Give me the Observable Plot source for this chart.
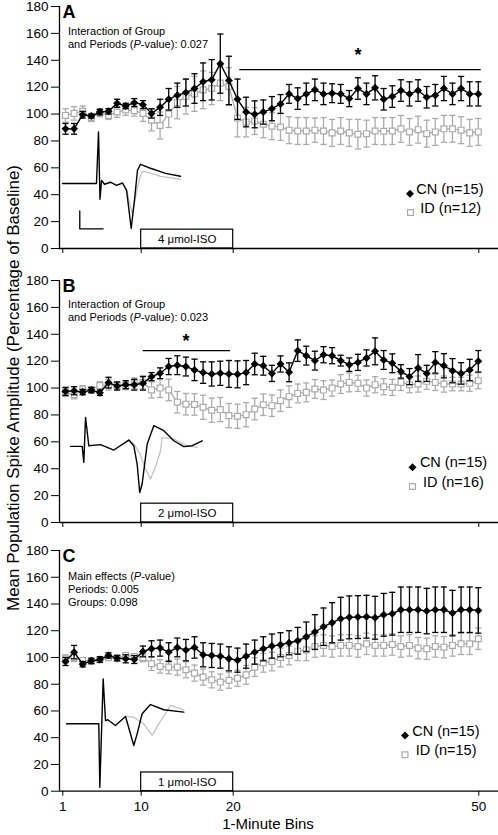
<!DOCTYPE html>
<html><head><meta charset="utf-8">
<script src="https://cdn.jsdelivr.net/npm/d3@7"></script>
<script src="https://cdn.jsdelivr.net/npm/@observablehq/plot@0.6"></script>
<style>
body{margin:0;background:#fff;font-family:"Liberation Sans",Arial,sans-serif;}
#chart{position:relative;width:498px;height:835px;overflow:hidden;background:#fff;}
.panel{position:absolute;left:0;}
.note{position:absolute;left:68px;font-size:11px;line-height:13px;color:#000;white-space:nowrap;}
#ytitle{position:absolute;left:-226px;top:378px;width:480px;height:20px;line-height:20px;text-align:center;font-size:17px;transform:rotate(-90deg);transform-origin:50% 50%;white-space:nowrap;}
#xtitle{position:absolute;left:168px;width:200px;top:815px;height:17px;line-height:17px;text-align:center;font-size:15px;white-space:nowrap;}
</style></head>
<body><div id="chart"></div>
<script>
// ---- shared axes ----
const bins = d3.range(1, 50);               // 49 one-minute bins
const yTicks = d3.range(0, 181, 20);
const xTickAt = [0.686, 9.80, 20.50, 49.06];  // where the printed ticks sit relative to the bins
const xTickLabels = ["1", "10", "20", "50"];
const xDomain = [0.302, 51.35];

// ---- panel A ----
const cnA = [89,89,99.5,98.5,101.5,102,108,106,108.5,107, 100.5,105,111,114,116,119,124,125.5,137.5,125, 111,101.5,99.8,101.5,104,107.5,115,111.5,115,118, 115,115.5,115,111.5,119,115,119.5,111,113,117.5, 115,117.5,112.5,114,119,115,119,115,115];
const cnAErr = [4,4,2.5,1.5,2,2,3,2,3,3, 3.5,6,8,9,10,11,14,15,22,18, 15,11,10,9,9,7,7,8,8,8, 8,7,7,6,8,8,9,8,8,8, 9,8,8,8,9,8,9,9,9];
const idA = [99,100.5,102,97.5,101,99,101.5,103,102.5,100.5, 95.5,91.5,100,108.5,113,115,118,119,123,120.5, 97,94,94.8,92.4,91,90.4,88,87.4,87.4,88, 87.4,86,87.4,86,85,85.4,87.4,87.2,87.4,89, 86.7,88.4,85.4,86.7,89,89,88,86,86.7];
const idAErr = [5,5,4,3,3,3,4,4,4,6, 8,10,10,12,13,13,14,12,13,14, 14,11,10,10,10,10,10,10,10,9, 10,10,10,10,11,10,10,10,10,10, 10,10,10,10,10,10,10,10,10];
const legendA = ["CN (n=15)", "ID (n=12)"];
const boxA = "4 μmol-ISO";
const sigA = {x1: 21.27, x2: 49.34, y: 133, sx: 35, sy: 144};
const traceCNA = [[0.65,48.3],[4.6,48.3],[4.84,86.6],[5.01,36.6],[5.19,50.7],[5.53,47.8],[6.23,49.3],[6.93,47],[7.63,48.7],[8.1,43.3],[8.64,14.9],[9.02,35.9],[9.37,58.2],[9.72,62.6],[10.88,59.7],[12.63,55.9],[14.37,53.7]];
const traceIDA = [[7.63,48.7],[8.1,44],[8.76,26],[9.2,40],[9.6,52],[9.95,57.4],[10.9,56],[12.05,53.7],[14.37,51.5]];
const scaleBarA = [[2.66,27.9],[2.66,14.6],[5.38,14.6]];

// ---- panel B ----
const cnB = [97.5,98,97,98.5,96.5,104,101.5,102.5,102.5,103.5, 108.5,111,116,117,116,113.5,111.5,110.5,111,110.5, 110.2,111.5,117.9,116.6,110.9,117.9,111.7,127.8,124.1,120.4, 124.8,124.1,120.4,117.4,119.1,122.4,127.3,120.9,118.4,112.4, 108.5,114.9,110.9,119.1,116.6,112.9,110.9,113.4,119.9];
const cnBErr = [3,3,2,2,2,4,3,3,4,5, 3,4,6,7,7,8,8,9,9,10, 10,9,8,7,6,6,7,8,7,7, 6,6,4,5,6,6,10,7,7,5, 6,10,6,8,9,9,8,8,8];
const idB = [96.8,95,98.8,98.6,101.8,102.5,101.8,101.8,103.5,104.3, 98.6,100,98.6,89.5,88,87.8,85.7,83.5,84,79.5, 79,80.2,84.4,87.6,86.9,90.6,93.6,96,96.8,99.3, 98.5,100,103,104.2,103.5,100,102.5,101,100.5,104.2, 102.5,103,105,104.2,103,103,103,103.5,105.5];
const idBErr = [3,3,3,2,3,4,3,3,4,5, 6,7,8,8,8,8,9,9,9,9, 9,9,8,8,8,8,8,7,7,7, 7,6,7,7,6,6,6,6,6,6, 6,6,6,6,6,5,5,6,6];
const legendB = ["CN (n=15)", "ID (n=16)"];
const boxB = "2 μmol-ISO";
const sigB = {x1: 10.03, x2: 20.2, y: 127.8, sx: 15, sy: 134.5};
const traceCNB = [[1.58,56.6],[2.94,56.6],[3.13,44.7],[3.33,78.2],[3.71,57.1],[5.07,57.9],[6.62,53.9],[8.36,61.3],[8.94,57.1],[9.33,43.5],[9.63,22.3],[9.91,28.6],[10.5,58.4],[11.27,72],[12.43,68.3],[13.59,60.8],[14.76,56.4],[15.73,57.1],[16.9,60.8]];
const traceIDB = [[8.36,61.3],[8.94,58.5],[9.6,52],[10.3,40],[10.88,32.3],[11.5,42],[12.05,53.4],[12.24,63.3],[13.59,62],[15.15,57.1],[16.31,55.8]];

// ---- panel C ----
const cnC = [97,104,95,97.5,98.5,101.5,99.5,99,98.5,104.5, 106.5,107,104,107.5,105.5,107.5,102,101.5,101,99, 98,101,104,106.5,108.5,109.5,111,112.5,115.5,119, 123,126,129,130,130.2,130.5,129.7,131.9,132.7,135.7, 135.7,135.7,134.7,135.7,135.7,133.2,135.7,135.7,135.2];
const cnCErr = [3,5,2,2,2,2,2,3,3,4, 6,6,7,7,8,8,9,9,9,9, 9,9,9,9,9,9,9,10,11,13, 14,15,16,16,16,16,16,16,16,17, 17,17,17,17,17,17,17,17,17];
const idC = [99,100,97.8,97,98.3,99.8,99.5,101.5,100.8,99.8, 95.3,93.3,92.8,92.8,90.8,88.3,85.3,83.3,81.6,83, 84.5,87,92.8,96,97,100,101.5,104.7,105.7,108.2, 109,108.2,109,109,108.2,110.2,109,109,109.7,108.2, 109,107,106.5,108.2,107.7,109,110.2,110.2,114];
const idCErr = [3,3,2,2,2,2,2,2,2,3, 5,5,5,6,6,6,6,6,6,6, 6,7,7,7,7,7,7,7,8,8, 8,8,8,8,8,8,8,8,8,8, 8,8,8,8,8,8,8,8,8];
const legendC = ["CN (n=15)", "ID (n=15)"];
const boxC = "1 μmol-ISO";
const traceCNC = [[1.12,50.4],[4.87,50.4],[4.99,3],[5.38,84],[5.65,52.9],[5.92,53.4],[6.81,49.1],[7.98,55.9],[8.94,34.2],[9.33,42.9],[9.91,57.9],[10.88,64.8],[12.43,60.9],[14.76,59.1]];
const traceIDC = [[7.98,55.9],[8.94,55.3],[10.1,50.4],[11.08,41.7],[11.85,50.4],[13.21,64.1],[14.76,60.9]];

const GREY = "#ababab";
const FONT = "'Liberation Sans', Arial, sans-serif";

function makePanel(cfg) {
  const rows = (vals, errs) => vals.map((v, i) => ({bin: bins[i], v, e: errs[i]}));
  const dCN = rows(cfg.cn, cfg.cnErr);
  const dID = rows(cfg.id, cfg.idErr);
  const bars = (d, color) => [
    Plot.ruleX(d, {x: "bin", y1: r => r.v - r.e, y2: r => r.v + r.e, stroke: color, strokeWidth: 1.3}),
    Plot.link(d, {x1: r => r.bin - 0.36, x2: r => r.bin + 0.36, y1: r => r.v + r.e, y2: r => r.v + r.e, stroke: color, strokeWidth: 1.3}),
    Plot.link(d, {x1: r => r.bin - 0.36, x2: r => r.bin + 0.36, y1: r => r.v - r.e, y2: r => r.v - r.e, stroke: color, strokeWidth: 1.3})
  ];
  const marks = [
    Plot.line(cfg.traceID, {x: d => d[0], y: d => d[1], stroke: "#c4c4c4", strokeWidth: 1.3}),
    Plot.line(cfg.traceCN, {x: d => d[0], y: d => d[1], stroke: "#000", strokeWidth: 1.4}),
    cfg.scaleBar ? Plot.line(cfg.scaleBar, {x: d => d[0], y: d => d[1], stroke: "#000", strokeWidth: 1.3}) : null,
    Plot.rect([cfg.box], {x1: xTickAt[1], x2: xTickAt[2], y1: 0, y2: 14, fill: "white", stroke: "#000", strokeWidth: 1.2}),
    Plot.text([cfg.box], {x: (xTickAt[1] + xTickAt[2]) / 2, y: 6.8, fontSize: 11.5, fill: "#000"}),
    ...bars(dID, GREY),
    Plot.line(dID, {x: "bin", y: "v", stroke: GREY, strokeWidth: 1.3}),
    Plot.dot(dID, {x: "bin", y: "v", symbol: "square", r: 3.3, fill: "white", stroke: GREY, strokeWidth: 1.2}),
    ...bars(dCN, "#000"),
    Plot.line(dCN, {x: "bin", y: "v", stroke: "#000", strokeWidth: 1.4}),
    Plot.dot(dCN, {x: "bin", y: "v", symbol: "diamond2", r: 3.6, fill: "#000"}),
    Plot.ruleY([0], {stroke: "#000", strokeWidth: 1.3}),
    Plot.ruleX([xDomain[0]], {y1: 0, y2: 180, stroke: "#000", strokeWidth: 1.3}),
    Plot.axisY({ticks: yTicks, tickSize: 8, tickPadding: 3, fontSize: 13.5, label: null, tickFormat: d => String(d)}),
    Plot.axisX({ticks: xTickAt, tickSize: 5, tickPadding: 5, fontSize: 13.5, label: null,
      tickFormat: cfg.showX ? (d => xTickLabels[xTickAt.indexOf(d)]) : (() => "")}),
    Plot.text([cfg.letter], {frameAnchor: "top-left", dx: 3, dy: -1, lineAnchor: "top", textAnchor: "start", fontSize: 18, fontWeight: "bold"}),
    Plot.dot([0], {frameAnchor: "bottom-right", dx: cfg.leg.d1[0], dy: cfg.leg.d1[1], symbol: "diamond2", r: 3.6, fill: "#000"}),
    Plot.text([cfg.legend[0]], {frameAnchor: "bottom-right", dx: cfg.leg.t1[0], dy: cfg.leg.t1[1], textAnchor: "end", fontSize: 14.5}),
    Plot.dot([0], {frameAnchor: "bottom-right", dx: cfg.leg.d2[0], dy: cfg.leg.d2[1], symbol: "square", r: 3.3, fill: "white", stroke: GREY, strokeWidth: 1.2}),
    Plot.text([cfg.legend[1]], {frameAnchor: "bottom-right", dx: cfg.leg.t2[0], dy: cfg.leg.t2[1], textAnchor: "end", fontSize: 14.5})
  ];
  if (cfg.sig) {
    marks.push(Plot.ruleY([cfg.sig], {x1: "x1", x2: "x2", y: "y", stroke: "#000", strokeWidth: 1.3}));
    marks.push(Plot.text([cfg.sig], {x: "sx", y: "sy", text: () => "*", fontSize: 18, fontWeight: "bold"}));
  }
  const svg = Plot.plot({
    width: 498, height: cfg.height,
    marginLeft: 59, marginRight: 0, marginTop: 6, marginBottom: cfg.marginBottom,
    x: {domain: xDomain},
    y: {domain: [0, 180]},
    style: {fontFamily: FONT, fontSize: "13.5px", color: "#000", background: "transparent", overflow: "visible"},
    marks: marks.filter(Boolean)
  });
  svg.classList.add("panel");
  svg.style.top = cfg.top + "px";
  return svg;
}

const chart = document.getElementById("chart");
chart.append(makePanel({cn: cnA, cnErr: cnAErr, id: idA, idErr: idAErr, legend: legendA, box: boxA, sig: sigA,
  traceCN: traceCNA, traceID: traceIDA, scaleBar: scaleBarA, letter: "A", showX: false,
  top: 0, height: 262, marginBottom: 14,
  leg: {d1: [-88.5, -54.7], t1: [-15, -55], d2: [-88, -36], t2: [-17.3, -36]}}));
chart.append(makePanel({cn: cnB, cnErr: cnBErr, id: idB, idErr: idBErr, legend: legendB, box: boxB, sig: sigB,
  traceCN: traceCNB, traceID: traceIDB, scaleBar: null, letter: "B", showX: false,
  top: 274, height: 262, marginBottom: 14,
  leg: {d1: [-86, -55.3], t1: [-11.3, -55.5], d2: [-86, -36], t2: [-14.7, -36]}}));
chart.append(makePanel({cn: cnC, cnErr: cnCErr, id: idC, idErr: idCErr, legend: legendC, box: boxC, sig: null,
  traceCN: traceCNC, traceID: traceIDC, scaleBar: null, letter: "C", showX: true,
  top: 544, height: 270, marginBottom: 23.3,
  leg: {d1: [-93.5, -55.7], t1: [-19, -55.7], d2: [-93.5, -36.4], t2: [-22, -36.4]}}));

const notes = [
  {top: 25, html: "Interaction of Group<br>and Periods (<i>P</i>-value): 0.027"},
  {top: 298, html: "Interaction of Group<br>and Periods (<i>P</i>-value): 0.023"},
  {top: 570, html: "Main effects (<i>P</i>-value)<br>Periods: 0.005<br>Groups: 0.098"}
];
for (const n of notes) {
  const div = document.createElement("div");
  div.className = "note";
  div.style.top = n.top + "px";
  div.innerHTML = n.html;
  chart.append(div);
}
const yt = document.createElement("div");
yt.id = "ytitle";
yt.textContent = "Mean Population Spike Amplitude (Percentage of Baseline)";
chart.append(yt);
const xt = document.createElement("div");
xt.id = "xtitle";
xt.textContent = "1-Minute Bins";
chart.append(xt);
</script>
</body></html>
